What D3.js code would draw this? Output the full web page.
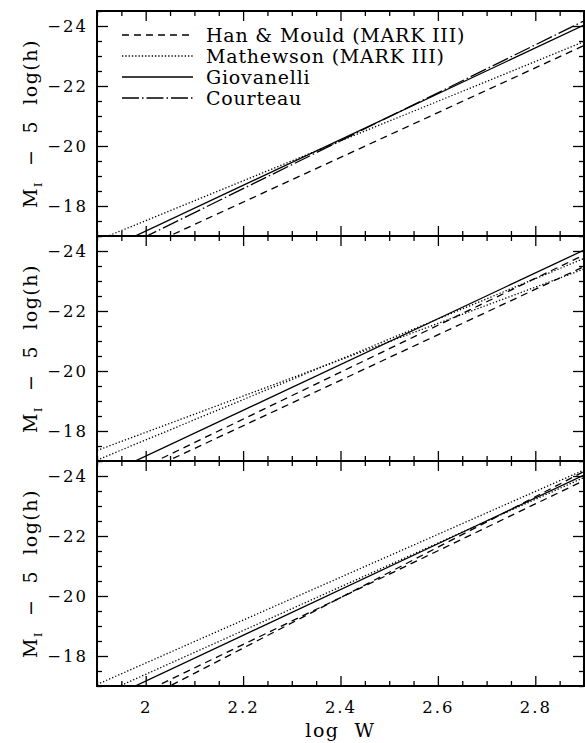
<!DOCTYPE html>
<html>
<head>
<meta charset="utf-8">
<script src="https://cdn.jsdelivr.net/npm/d3@7"></script>
<style>
body { margin: 0; background: #fff; }
svg { display: block; }
</style>
</head>
<body>
<svg class="tf-chart"></svg>
<script>
// line end values at log W = 1.9 and 2.9
var logW = [1.9, 2.9];

// top panel
var hanTop = [-15.89, -23.35];
var mathTop = [-16.85, -23.48];
var giovTop = [-16.40, -24.03];
var courTop = [-16.18, -24.17];

// middle panel
var hanMidA = [-16.05, -23.87];
var hanMidB = [-15.90, -23.48];
var mathMidA = [-17.35, -23.40];
var mathMidB = [-17.03, -23.75];
var giovMid = [-16.40, -24.03];

// bottom panel
var hanBotA = [-16.04, -23.85];
var hanBotB = [-15.74, -24.15];
var mathBotA = [-17.05, -24.20];
var mathBotB = [-16.66, -23.95];
var giovBot = [-16.40, -24.03];

var legendNames = ["Han & Mould (MARK III)", "Mathewson (MARK III)", "Giovanelli", "Courteau"];
var legendStyles = ["dash", "dot", "solid", "dashdot"];

var xMajor = [2, 2.2, 2.4, 2.6, 2.8];
var xMinor = [1.9, 1.95, 2.05, 2.1, 2.15, 2.25, 2.3, 2.35, 2.45, 2.5, 2.55, 2.65, 2.7, 2.75, 2.85, 2.9];
var yMajor = [-18, -20, -22, -24];
var yMinor = [-17, -17.5, -18.5, -19, -19.5, -20.5, -21, -21.5, -22.5, -23, -23.5, -24.5];

var dashes = { solid: null, dash: "7,5", dot: "1.3,2", dashdot: "17,3,1.5,3" };

var panels = [
	[{ v: hanTop, s: "dash" }, { v: mathTop, s: "dot" }, { v: giovTop, s: "solid" }, { v: courTop, s: "dashdot" }],
	[{ v: hanMidA, s: "dash" }, { v: hanMidB, s: "dash" }, { v: mathMidA, s: "dot" }, { v: mathMidB, s: "dot" }, { v: giovMid, s: "solid" }],
	[{ v: hanBotA, s: "dash" }, { v: hanBotB, s: "dash" }, { v: mathBotA, s: "dot" }, { v: mathBotB, s: "dot" }, { v: giovBot, s: "solid" }]
];

var svgWidth = 585, svgHeight = 743;
var left = 97, right = 584, top0 = 11, panelH = 225;
var font = "'DejaVu Serif', serif";

var svg = d3.select(".tf-chart")
	.attr("width", svgWidth)
	.attr("height", svgHeight);

var x = d3.scaleLinear()
	.domain([1.9, 2.9])
	.range([left, right]);

var line = d3.line()
	.x(function(d) { return x(d[0]) })
	.y(function(d) { return d[1] });

function tickAxis(g, axis, vals, size, labels) {
	g.call(axis.tickValues(vals).tickSize(size).tickFormat(labels ? labels : ""));
	g.select(".domain").remove();
	g.selectAll(".tick line").attr("stroke", "#000").attr("stroke-width", 1.3);
}

panels.forEach(function(series, p) {
	var top = top0 + p * panelH;
	var bottom = top + panelH;

	var y = d3.scaleLinear()
		.domain([-17, -24.5])
		.range([bottom, top]);

	var g = svg.append("g");

	g.append("clipPath")
		.attr("id", "clip" + p)
		.append("rect")
		.attr("x", left).attr("y", top)
		.attr("width", right - left).attr("height", panelH);

	series.forEach(function(s) {
		var pts = logW.map(function(w, i) { return [w, y(s.v[i])] });
		g.append("path")
			.datum(pts)
			.attr("clip-path", "url(#clip" + p + ")")
			.attr("fill", "none")
			.attr("stroke", "#000")
			.attr("stroke-width", 1.3)
			.attr("stroke-dasharray", dashes[s.s])
			.attr("d", line);
	});

	// ticks on all four sides, pointing inwards
	var last = p == panels.length - 1;
	tickAxis(g.append("g").attr("transform", "translate(0," + bottom + ")"),
		d3.axisBottom(x).tickPadding(15), xMajor, -10, last ? d3.format("") : null);
	tickAxis(g.append("g").attr("transform", "translate(0," + bottom + ")"),
		d3.axisBottom(x), xMinor, -5, null);
	tickAxis(g.append("g").attr("transform", "translate(0," + top + ")"),
		d3.axisTop(x), xMajor, -10, null);
	tickAxis(g.append("g").attr("transform", "translate(0," + top + ")"),
		d3.axisTop(x), xMinor, -5, null);
	tickAxis(g.append("g").attr("transform", "translate(" + left + ",0)"),
		d3.axisLeft(y).tickPadding(9), yMajor, -11, d3.format("d"));
	tickAxis(g.append("g").attr("transform", "translate(" + left + ",0)"),
		d3.axisLeft(y), yMinor, -5, null);
	tickAxis(g.append("g").attr("transform", "translate(" + right + ",0)"),
		d3.axisRight(y), yMajor, -11, null);
	tickAxis(g.append("g").attr("transform", "translate(" + right + ",0)"),
		d3.axisRight(y), yMinor, -5, null);

	g.selectAll(".tick text")
		.attr("fill", "#000")
		.style("font-family", font)
		.style("font-size", "16.5px")
		.style("letter-spacing", "2px");

	g.append("rect")
		.attr("x", left).attr("y", top)
		.attr("width", right - left).attr("height", panelH)
		.attr("fill", "none")
		.attr("stroke", "#000")
		.attr("stroke-width", 2);

	// y label
	var lab = g.append("text")
		.attr("transform", "translate(37," + (top + panelH / 2) + ") rotate(-90)")
		.attr("text-anchor", "middle")
		.attr("fill", "#000")
		.style("font-family", font)
		.style("font-size", "19px")
		.style("letter-spacing", "1.5px")
		.style("white-space", "pre");
	lab.append("tspan").text("M");
	lab.append("tspan").attr("dy", 5).style("font-size", "11px").text("I");
	lab.append("tspan").attr("dy", -5).text("  \u2212  5  log(h)");
});

// legend in top panel
var legend = svg.append("g");
legendNames.forEach(function(name, i) {
	var ly = 35 + i * 21;
	legend.append("line")
		.attr("x1", 122).attr("x2", 193)
		.attr("y1", ly).attr("y2", ly)
		.attr("stroke", "#000")
		.attr("stroke-width", 1.3)
		.attr("stroke-dasharray", dashes[legendStyles[i]]);
	legend.append("text")
		.attr("x", 206)
		.attr("y", ly + 7)
		.attr("fill", "#000")
		.style("font-family", font)
		.style("font-size", "19px")
		.style("letter-spacing", "0.8px")
		.text(name);
});

svg.append("text")
	.attr("x", (left + right) / 2)
	.attr("y", 737)
	.attr("text-anchor", "middle")
	.attr("fill", "#000")
	.style("font-family", font)
	.style("font-size", "19px")
	.style("letter-spacing", "1.5px")
	.style("white-space", "pre")
	.text("log  W");
</script>
</body>
</html>
